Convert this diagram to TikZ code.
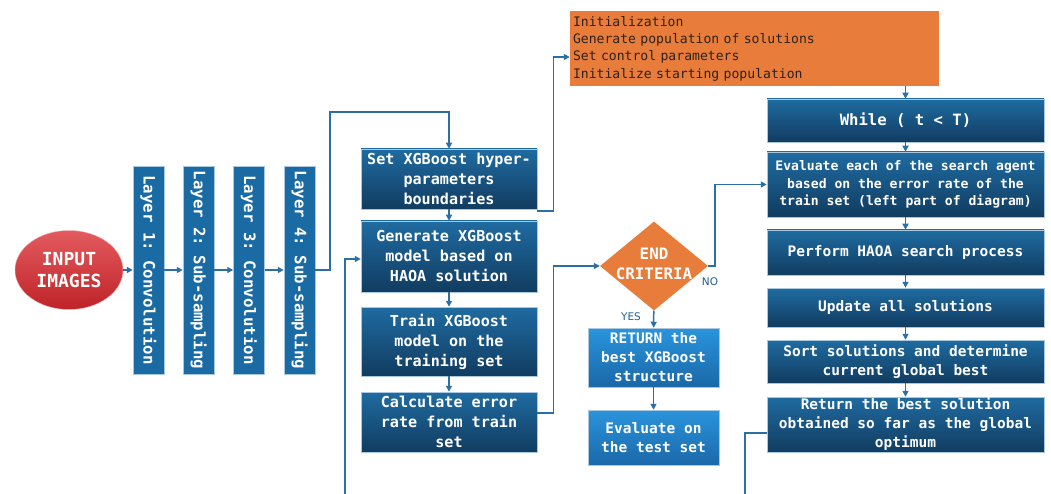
\documentclass[tikz,border=0pt]{standalone}
\usepackage{fontspec}
\setmonofont{DejaVu Sans Mono}
\newfontfamily\yesnofont{DejaVu Sans}
\usetikzlibrary{arrows.meta,positioning,calc,shapes.geometric}
\definecolor{boxtop}{HTML}{1F6BA1}
\definecolor{boxbot}{HTML}{113C60}
\definecolor{lighttop}{HTML}{2A94DC}
\definecolor{lightbot}{HTML}{1A68A8}
\definecolor{layerblue}{HTML}{1A6AA3}
\definecolor{boxedge}{HTML}{A9C7DF}
\definecolor{redtop}{HTML}{E35B5F}
\definecolor{redbot}{HTML}{BE2328}
\definecolor{initorange}{HTML}{E87D3B}
\definecolor{inittext}{HTML}{2E2018}
\definecolor{linkblue}{HTML}{2C6FA6}
\definecolor{nolabel}{HTML}{1E5C92}

\begin{document}
\begin{tikzpicture}[
	x=1pt, y=-1pt,
	every node/.style={font=\ttfamily\bfseries, text=white, inner sep=2pt},
	darkbox/.style={rectangle, draw=boxedge, line width=0.5pt, top color=boxtop, bottom color=boxbot, align=center, inner ysep=0pt},
	lightbox/.style={darkbox, top color=lighttop, bottom color=lightbot, font=\fontsize{14.5}{19}\ttfamily\bfseries},
	layer/.style={rectangle, draw=boxedge, line width=0.5pt, fill=layerblue, minimum width=31pt, minimum height=208pt, font=\fontsize{15.7}{18}\ttfamily\bfseries},
	leftbox/.style={darkbox, minimum width=176pt, font=\fontsize{15.1}{20}\ttfamily\bfseries},
	rightbox/.style={darkbox, minimum width=277pt, font=\fontsize{14.5}{19}\ttfamily\bfseries},
	initbox/.style={rectangle, fill=initorange, text=inittext, minimum width=369pt, minimum height=75pt, text width=363pt, inner sep=3pt, align=left, font=\fontsize{13.1}{17.4}\ttfamily},
	yesno/.style={text=nolabel, font=\yesnofont\fontsize{10.5}{12}\selectfont},
	arrow/.style={-{Triangle[length=6pt,width=6pt]}, draw=linkblue, line width=1.5pt},
	link/.style={draw=linkblue, line width=1.5pt}
	]
	
	\useasboundingbox (0,0) rectangle (1051,494);
	
	% CNN part
	\node[ellipse, draw=redtop!50!white, top color=redtop, bottom color=redbot, minimum width=108pt, minimum height=79pt, inner sep=0pt, align=center, font=\fontsize{18}{22}\ttfamily\bfseries] (input) at (69,270) {INPUT\\IMAGES};
	
	\node[layer] (L1) at (148.5,270) {\rotatebox{-90}{Layer 1: Convolution}};
	\node[layer] (L2) at (198.5,270) {\rotatebox{-90}{Layer 2: Sub-sampling}};
	\node[layer] (L3) at (249,270) {\rotatebox{-90}{Layer 3: Convolution}};
	\node[layer] (L4) at (299.5,270) {\rotatebox{-90}{Layer 4: Sub-sampling}};
	
	% XGBoost part
	\node[leftbox, minimum height=60pt] (set) at (449,179) {Set XGBoost hyper-\\parameters\\boundaries};
	\node[leftbox, minimum height=71pt] (gen) at (449,256.5) {Generate XGBoost\\model based on\\HAOA solution};
	\node[leftbox, minimum height=69pt] (train) at (449,341.5) {Train XGBoost\\model on the\\training set};
	\node[leftbox, minimum height=60pt] (calc) at (449,422) {Calculate error\\rate from train\\set};
	
	\node[diamond, fill=initorange, minimum width=108pt, minimum height=89pt, inner sep=0pt,
		label={[font=\fontsize{15.8}{20}\ttfamily\bfseries, align=center, yshift=2pt]center:{END\\CRITERIA}}] (crit) at (654,266) {};
	\node[yesno] (no) at (710,282) {NO};
	\node[yesno] (yes) at (631,317) {YES};
	
	\node[lightbox, minimum width=131pt, minimum height=59pt] (ret) at (653.5,357.5) {RETURN the\\best XGBoost\\structure};
	\node[lightbox, minimum width=131pt, minimum height=55pt] (test) at (653.5,437.5) {Evaluate on\\the test set};
	
	% HAOA part
	\node[initbox] (init) at (754.5,48.5) {Initialization\\Generate population of solutions\\Set control parameters\\Initialize starting population};
	
	\node[rightbox, minimum height=43pt, font=\fontsize{15.6}{19}\ttfamily\bfseries] (while) at (905.5,120.5) {While ( t < T)};
	\node[rightbox, minimum height=65pt, font=\fontsize{13.1}{17.5}\ttfamily\bfseries] (eval) at (905.5,184.5) {Evaluate each of the search agent\\based on the error rate of the\\train set (left part of diagram)};
	\node[rightbox, minimum height=45pt] (search) at (905.5,252.5) {Perform HAOA search process};
	\node[rightbox, minimum height=39pt] (update) at (905.5,307.5) {Update all solutions};
	\node[rightbox, minimum height=43pt] (sort) at (905.5,361.5) {Sort solutions and determine\\current global best};
	\node[rightbox, minimum height=55pt] (best) at (905.5,424.5) {Return the best solution\\obtained so far as the global\\optimum};
	
	\coordinate (bendA) at (330,112);
	\coordinate (loopL) at (345,494);
	\coordinate (loopR) at (745,494);
	
	\draw[arrow] (input) -- (L1);
	\draw[arrow] (L1) -- (L2);
	\draw[arrow] (L2) -- (L3);
	\draw[arrow] (L3) -- (L4);
	\draw[arrow] (L4.east) -| (bendA) -| (set);
	
	\draw[arrow] (set) -- (gen);
	\draw[arrow] (gen) -- (train);
	\draw[arrow] (train) -- (calc);
	\draw[arrow] ([yshift=-2pt]set.south east) -- ++(16,0) |- ([yshift=-8.5pt]init.west);
	\draw[arrow] (loopL) |- ([yshift=-2.5pt]gen.west);
	\draw[arrow] ([yshift=9pt]calc.east) -- ++(16,0) |- (crit);
	
	\draw[arrow] (crit.east) -- ++(7,0) |- (eval);
	\draw[arrow] (crit) -- (ret);
	\draw[arrow] (ret) -- (test);
	
	\draw[arrow] (init.south -| while) -- (while);
	\draw[arrow] (while) -- (eval);
	\draw[arrow] (eval) -- (search);
	\draw[arrow] (search) -- (update);
	\draw[arrow] (update) -- (sort);
	\draw[arrow] (sort) -- (best);
	\draw[link] ([yshift=-8.5pt]best.west) -| (loopR);
	
\end{tikzpicture}
\end{document}
